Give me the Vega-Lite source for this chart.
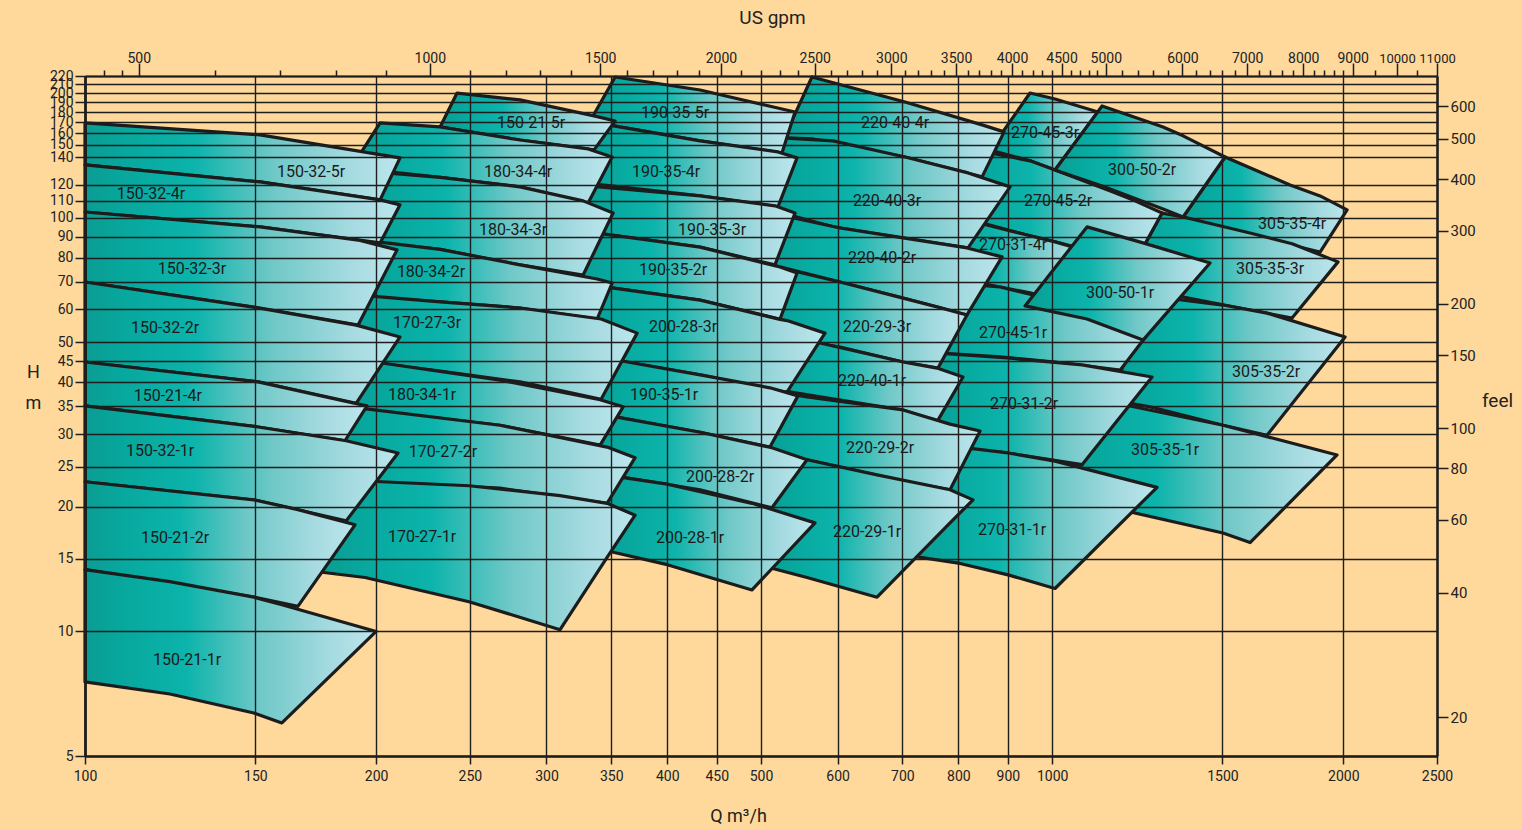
{
  "$schema": "https://vega.github.io/schema/vega-lite/v6.json",
  "width": 1352,
  "height": 680,
  "autosize": {"type": "none"},
  "padding": {"left": 85, "top": 76, "right": 85, "bottom": 74},
  "background": "#FED99B",
  "config": {
    "view": {"stroke": null},
    "font": "Roboto",
    "axis": {
      "labelFont": "Roboto", "labelColor": "#222222", "tickColor": "#1e1e1e", "domainColor": "#1e1e1e",
      "titleFont": "Roboto", "titleFontWeight": "normal", "titleColor": "#222222",
      "labelFlush": false, "labelOverlap": false, "tickWidth": 1.5, "zindex": 1
    }
  },
  "datasets": {
    "regions": [
      {"r":"150-32-5r","c":7,"q":100,"t":169.4,"b":134.1},
      {"r":"150-32-5r","c":7,"q":151.7,"t":158.5,"b":122.0},
      {"r":"150-32-5r","c":7,"q":201.9,"t":142.0,"b":110.4},
      {"r":"150-32-5r","c":7,"q":211.7,"t":139.5,"b":139.5},
      {"r":"150-32-4r","c":7,"q":100,"t":134.1,"b":103.2},
      {"r":"150-32-4r","c":7,"q":151.7,"t":122.0,"b":95.0},
      {"r":"150-32-4r","c":7,"q":201.9,"t":110.4,"b":86.9},
      {"r":"150-32-4r","c":7,"q":211.7,"t":107.4,"b":107.4},
      {"r":"150-32-3r","c":7,"q":100,"t":103.2,"b":69.9},
      {"r":"150-32-3r","c":7,"q":151.7,"t":95.0,"b":60.5},
      {"r":"150-32-3r","c":7,"q":191.6,"t":88.3,"b":55.0},
      {"r":"150-32-3r","c":7,"q":210.2,"t":83.6,"b":83.6},
      {"r":"150-32-2r","c":7,"q":100,"t":69.9,"b":44.8},
      {"r":"150-32-2r","c":7,"q":151.0,"t":60.5,"b":40.1},
      {"r":"150-32-2r","c":7,"q":190.7,"t":55.0,"b":35.6},
      {"r":"150-32-2r","c":7,"q":211.7,"t":51.5,"b":51.5},
      {"r":"150-21-4r","c":7,"q":100,"t":44.8,"b":35.1},
      {"r":"150-21-4r","c":7,"q":151.0,"t":40.1,"b":31.2},
      {"r":"150-21-4r","c":7,"q":185.7,"t":36.0,"b":28.9},
      {"r":"150-21-4r","c":7,"q":195.7,"t":35.1,"b":35.1},
      {"r":"150-32-1r","c":7,"q":100,"t":35.1,"b":23.0},
      {"r":"150-32-1r","c":7,"q":151.0,"t":31.2,"b":20.7},
      {"r":"150-32-1r","c":7,"q":186.2,"t":28.9,"b":18.5},
      {"r":"150-32-1r","c":7,"q":210.7,"t":27.0,"b":27.0},
      {"r":"150-21-2r","c":7,"q":100,"t":23.0,"b":14.1},
      {"r":"150-21-2r","c":7,"q":149.5,"t":20.8,"b":12.1},
      {"r":"150-21-2r","c":7,"q":166.0,"t":19.7,"b":11.5},
      {"r":"150-21-2r","c":7,"q":190.2,"t":18.1,"b":18.1},
      {"r":"150-21-1r","c":7,"q":100,"t":14.1,"b":7.55},
      {"r":"150-21-1r","c":7,"q":122.4,"t":13.2,"b":7.06},
      {"r":"150-21-1r","c":7,"q":149.5,"t":12.1,"b":6.35},
      {"r":"150-21-1r","c":7,"q":159.8,"t":11.6,"b":6.01},
      {"r":"150-21-1r","c":7,"q":200,"t":10.0,"b":10.0},

      {"r":"150-21-5r","c":6,"q":232.9,"t":165.7,"b":165.7},
      {"r":"150-21-5r","c":6,"q":242.5,"t":200.1,"b":163.0},
      {"r":"150-21-5r","c":6,"q":281.7,"t":192.6,"b":154.1},
      {"r":"150-21-5r","c":6,"q":336.0,"t":176.2,"b":145.8},
      {"r":"150-21-5r","c":6,"q":353.3,"t":171.3,"b":171.3},
      {"r":"180-34-4r","c":6,"q":187.9,"t":130.4,"b":130.4},
      {"r":"180-34-4r","c":6,"q":201.9,"t":169.4,"b":129.7},
      {"r":"180-34-4r","c":6,"q":232.9,"t":165.7,"b":125.2},
      {"r":"180-34-4r","c":6,"q":281.7,"t":154.1,"b":118.7},
      {"r":"180-34-4r","c":6,"q":331.3,"t":146.6,"b":108.5},
      {"r":"180-34-4r","c":6,"q":350.8,"t":140.2,"b":140.2},
      {"r":"180-34-3r","c":6,"q":191.6,"t":87.9,"b":87.9},
      {"r":"180-34-3r","c":6,"q":193.4,"t":129.7,"b":87.6},
      {"r":"180-34-3r","c":6,"q":232.9,"t":125.2,"b":83.8},
      {"r":"180-34-3r","c":6,"q":281.7,"t":118.7,"b":76.9},
      {"r":"180-34-3r","c":6,"q":327.4,"t":109.8,"b":72.7},
      {"r":"180-34-3r","c":6,"q":351.6,"t":102.6,"b":102.6},
      {"r":"180-34-2r","c":6,"q":190.2,"t":64.7,"b":64.7},
      {"r":"180-34-2r","c":6,"q":197.1,"t":87.9,"b":64.3},
      {"r":"180-34-2r","c":6,"q":232.9,"t":83.8,"b":62.6},
      {"r":"180-34-2r","c":6,"q":281.7,"t":76.9,"b":60.5},
      {"r":"180-34-2r","c":6,"q":338.5,"t":71.1,"b":56.9},
      {"r":"180-34-2r","c":6,"q":350.8,"t":69.5,"b":69.5},
      {"r":"170-27-3r","c":6,"q":185.7,"t":44.1,"b":44.1},
      {"r":"170-27-3r","c":6,"q":196.2,"t":64.7,"b":44.8},
      {"r":"170-27-3r","c":6,"q":232.9,"t":62.6,"b":42.6},
      {"r":"170-27-3r","c":6,"q":281.7,"t":60.5,"b":40.1},
      {"r":"170-27-3r","c":6,"q":341.7,"t":56.9,"b":36.4},
      {"r":"170-27-3r","c":6,"q":372.3,"t":52.6,"b":52.6},
      {"r":"180-34-1r","c":6,"q":187.9,"t":34.3,"b":34.3},
      {"r":"180-34-1r","c":6,"q":199.5,"t":44.8,"b":34.1},
      {"r":"180-34-1r","c":6,"q":268.6,"t":40.5,"b":31.5},
      {"r":"180-34-1r","c":6,"q":340.9,"t":36.3,"b":28.2},
      {"r":"180-34-1r","c":6,"q":360.1,"t":34.9,"b":34.9},
      {"r":"170-27-2r","c":6,"q":177.1,"t":23.1,"b":23.1},
      {"r":"170-27-2r","c":6,"q":187.9,"t":34.9,"b":23.1},
      {"r":"170-27-2r","c":6,"q":268.6,"t":31.5,"b":22.2},
      {"r":"170-27-2r","c":6,"q":346.6,"t":27.9,"b":20.4},
      {"r":"170-27-2r","c":6,"q":370.5,"t":26.3,"b":26.3},
      {"r":"170-27-1r","c":6,"q":175.8,"t":13.9,"b":13.9},
      {"r":"170-27-1r","c":6,"q":194.8,"t":23.1,"b":13.5},
      {"r":"170-27-1r","c":6,"q":249.5,"t":22.5,"b":11.8},
      {"r":"170-27-1r","c":6,"q":309.9,"t":21.3,"b":10.1},
      {"r":"170-27-1r","c":6,"q":346.6,"t":20.4,"b":15.1},
      {"r":"170-27-1r","c":6,"q":370.5,"t":19.1,"b":19.1},

      {"r":"190-35-5r","c":5,"q":332.0,"t":169.4,"b":169.4},
      {"r":"190-35-5r","c":5,"q":353.3,"t":218.8,"b":166.6},
      {"r":"190-35-5r","c":5,"q":432.5,"t":203.5,"b":153.3},
      {"r":"190-35-5r","c":5,"q":525.6,"t":183.1,"b":143.4},
      {"r":"190-35-5r","c":5,"q":542.2,"t":180.1,"b":180.1},
      {"r":"190-35-4r","c":5,"q":326.6,"t":120.0,"b":120.0},
      {"r":"190-35-4r","c":5,"q":342.5,"t":168.5,"b":120.0},
      {"r":"190-35-4r","c":5,"q":432.5,"t":153.3,"b":112.9},
      {"r":"190-35-4r","c":5,"q":520.6,"t":144.2,"b":106.2},
      {"r":"190-35-4r","c":5,"q":544.8,"t":139.5,"b":139.5},
      {"r":"190-35-3r","c":5,"q":323.5,"t":92.3,"b":92.3},
      {"r":"190-35-3r","c":5,"q":331.3,"t":119.3,"b":92.3},
      {"r":"190-35-3r","c":5,"q":432.5,"t":112.9,"b":84.9},
      {"r":"190-35-3r","c":5,"q":516.9,"t":106.8,"b":76.9},
      {"r":"190-35-3r","c":5,"q":542.2,"t":102.6,"b":102.6},
      {"r":"190-35-2r","c":5,"q":321.2,"t":68.8,"b":68.8},
      {"r":"190-35-2r","c":5,"q":332.9,"t":92.3,"b":68.8},
      {"r":"190-35-2r","c":5,"q":432.5,"t":84.9,"b":63.2},
      {"r":"190-35-2r","c":5,"q":523.1,"t":76.0,"b":56.8},
      {"r":"190-35-2r","c":5,"q":544.8,"t":73.5,"b":73.5},
      {"r":"200-28-3r","c":5,"q":325.0,"t":46.6,"b":46.6},
      {"r":"200-28-3r","c":5,"q":332.9,"t":68.8,"b":46.3},
      {"r":"200-28-3r","c":5,"q":432.5,"t":63.2,"b":41.7},
      {"r":"200-28-3r","c":5,"q":523.1,"t":56.8,"b":38.1},
      {"r":"200-28-3r","c":5,"q":531.9,"t":56.4,"b":37.9},
      {"r":"200-28-3r","c":5,"q":582.3,"t":52.6,"b":52.6},
      {"r":"190-35-1r","c":5,"q":332.9,"t":33.4,"b":33.4},
      {"r":"190-35-1r","c":5,"q":345.0,"t":45.8,"b":33.4},
      {"r":"190-35-1r","c":5,"q":432.5,"t":41.7,"b":30.3},
      {"r":"190-35-1r","c":5,"q":510.8,"t":38.8,"b":27.9},
      {"r":"190-35-1r","c":5,"q":546.0,"t":37.1,"b":37.1},
      {"r":"200-28-2r","c":5,"q":332.9,"t":24.3,"b":24.3},
      {"r":"200-28-2r","c":5,"q":343.3,"t":33.4,"b":24.0},
      {"r":"200-28-2r","c":5,"q":432.5,"t":30.3,"b":22.0},
      {"r":"200-28-2r","c":5,"q":513.2,"t":27.8,"b":19.9},
      {"r":"200-28-2r","c":5,"q":557.9,"t":26.0,"b":26.0},
      {"r":"200-28-1r","c":5,"q":340.9,"t":15.7,"b":15.7},
      {"r":"200-28-1r","c":5,"q":349.1,"t":23.8,"b":15.6},
      {"r":"200-28-1r","c":5,"q":400,"t":22.7,"b":14.5},
      {"r":"200-28-1r","c":5,"q":489.4,"t":20.4,"b":12.6},
      {"r":"200-28-1r","c":5,"q":568.6,"t":18.3,"b":18.3},

      {"r":"220-40-4r","c":4,"q":528.2,"t":155.9,"b":155.9},
      {"r":"220-40-4r","c":4,"q":564.5,"t":218.8,"b":155.0},
      {"r":"220-40-4r","c":4,"q":704.5,"t":190.4,"b":140.2},
      {"r":"220-40-4r","c":4,"q":846.4,"t":167.6,"b":125.5},
      {"r":"220-40-4r","c":4,"q":891.9,"t":161.2,"b":161.2},
      {"r":"220-40-3r","c":4,"q":510.8,"t":103.2,"b":103.2},
      {"r":"220-40-3r","c":4,"q":525.6,"t":155.9,"b":102.6},
      {"r":"220-40-3r","c":4,"q":593.5,"t":153.3,"b":95.0},
      {"r":"220-40-3r","c":4,"q":704.5,"t":140.2,"b":89.3},
      {"r":"220-40-3r","c":4,"q":818.5,"t":128.3,"b":84.5},
      {"r":"220-40-3r","c":4,"q":904.7,"t":118.7,"b":118.7},
      {"r":"220-40-2r","c":4,"q":499,"t":77.3,"b":77.3},
      {"r":"220-40-2r","c":4,"q":513.2,"t":102.6,"b":76.9},
      {"r":"220-40-2r","c":4,"q":603.4,"t":94.4,"b":69.9},
      {"r":"220-40-2r","c":4,"q":701.2,"t":89.3,"b":63.9},
      {"r":"220-40-2r","c":4,"q":816.5,"t":84.5,"b":58.2},
      {"r":"220-40-2r","c":4,"q":887.7,"t":80.4,"b":80.4},
      {"r":"220-29-3r","c":4,"q":504.8,"t":52.1,"b":52.1},
      {"r":"220-29-3r","c":4,"q":513.2,"t":76.5,"b":51.8},
      {"r":"220-29-3r","c":4,"q":603.4,"t":69.9,"b":48.7},
      {"r":"220-29-3r","c":4,"q":701.2,"t":63.9,"b":44.8},
      {"r":"220-29-3r","c":4,"q":762.1,"t":60.8,"b":43.3},
      {"r":"220-29-3r","c":4,"q":816.5,"t":58.2,"b":58.2},
      {"r":"220-40-1r","c":4,"q":516.9,"t":38.3,"b":38.3},
      {"r":"220-40-1r","c":4,"q":529.4,"t":50.1,"b":38.1},
      {"r":"220-40-1r","c":4,"q":575.4,"t":49.8,"b":36.9},
      {"r":"220-40-1r","c":4,"q":701.2,"t":44.8,"b":34.3},
      {"r":"220-40-1r","c":4,"q":760.2,"t":43.3,"b":32.1},
      {"r":"220-40-1r","c":4,"q":808.8,"t":41.2,"b":41.2},
      {"r":"220-29-2r","c":4,"q":504.8,"t":26.3,"b":26.3},
      {"r":"220-29-2r","c":4,"q":513.2,"t":38.1,"b":26.1},
      {"r":"220-29-2r","c":4,"q":557.9,"t":36.9,"b":26.0},
      {"r":"220-29-2r","c":4,"q":701.2,"t":34.3,"b":23.1},
      {"r":"220-29-2r","c":4,"q":784.2,"t":31.7,"b":22.0},
      {"r":"220-29-2r","c":4,"q":842.4,"t":30.5,"b":30.5},
      {"r":"220-29-1r","c":4,"q":504.8,"t":14.4,"b":14.4},
      {"r":"220-29-1r","c":4,"q":508.4,"t":25.8,"b":14.3},
      {"r":"220-29-1r","c":4,"q":557.9,"t":26.0,"b":13.5},
      {"r":"220-29-1r","c":4,"q":659.1,"t":23.9,"b":12.1},
      {"r":"220-29-1r","c":4,"q":784.2,"t":22.0,"b":18.3},
      {"r":"220-29-1r","c":4,"q":828.3,"t":20.8,"b":20.8},

      {"r":"270-45-3r","c":2,"q":862.7,"t":145.8,"b":145.8},
      {"r":"270-45-3r","c":2,"q":948.7,"t":200.1,"b":137.2},
      {"r":"270-45-3r","c":2,"q":1006.9,"t":193.6,"b":130.4},
      {"r":"270-45-3r","c":2,"q":1115.5,"t":180.1,"b":180.1},
      {"r":"270-45-2r","c":2,"q":803.0,"t":98.7,"b":98.7},
      {"r":"270-45-2r","c":2,"q":852.5,"t":144.2,"b":96.6},
      {"r":"270-45-2r","c":2,"q":948.7,"t":137.2,"b":90.4},
      {"r":"270-45-2r","c":2,"q":1006.9,"t":130.4,"b":87.4},
      {"r":"270-45-2r","c":2,"q":1156.0,"t":115.4,"b":80.4},
      {"r":"270-45-2r","c":2,"q":1218.2,"t":109.8,"b":78.2},
      {"r":"270-45-2r","c":2,"q":1299.2,"t":102.6,"b":102.6},
      {"r":"270-31-4r","c":2,"q":774.9,"t":70.7,"b":70.7},
      {"r":"270-31-4r","c":2,"q":832.2,"t":97.6,"b":69.9},
      {"r":"270-31-4r","c":2,"q":948.7,"t":90.4,"b":65.8},
      {"r":"270-31-4r","c":2,"q":1006.9,"t":87.4,"b":63.2},
      {"r":"270-31-4r","c":2,"q":1094.4,"t":82.6,"b":82.6},
      {"r":"270-45-1r","c":2,"q":738.9,"t":47.1,"b":47.1},
      {"r":"270-45-1r","c":2,"q":765.7,"t":69.9,"b":47.1},
      {"r":"270-45-1r","c":2,"q":883.4,"t":68.0,"b":46.1},
      {"r":"270-45-1r","c":2,"q":1006.9,"t":63.2,"b":44.8},
      {"r":"270-45-1r","c":2,"q":1175.6,"t":59.2,"b":42.8},
      {"r":"270-45-1r","c":2,"q":1292.9,"t":57.2,"b":57.2},
      {"r":"270-31-2r","c":2,"q":747.7,"t":27.9,"b":27.9},
      {"r":"270-31-2r","c":2,"q":756.6,"t":47.1,"b":27.9},
      {"r":"270-31-2r","c":2,"q":899.3,"t":45.8,"b":27.0},
      {"r":"270-31-2r","c":2,"q":1073.8,"t":44.1,"b":25.3},
      {"r":"270-31-2r","c":2,"q":1268.6,"t":41.2,"b":41.2},
      {"r":"270-31-1r","c":2,"q":716.4,"t":15.2,"b":15.2},
      {"r":"270-31-1r","c":2,"q":803.0,"t":27.9,"b":14.6},
      {"r":"270-31-1r","c":2,"q":900.5,"t":27.0,"b":13.7},
      {"r":"270-31-1r","c":2,"q":1006.9,"t":25.8,"b":12.7},
      {"r":"270-31-1r","c":2,"q":1283.7,"t":22.3,"b":22.3},

      {"r":"300-50-2r","c":3,"q":1006.9,"t":130.4,"b":130.4},
      {"r":"300-50-2r","c":3,"q":1126.2,"t":186.2,"b":119.3},
      {"r":"300-50-2r","c":3,"q":1302.2,"t":165.7,"b":105.0},
      {"r":"300-50-2r","c":3,"q":1365.8,"t":157.7,"b":100.4},
      {"r":"300-50-2r","c":3,"q":1509.3,"t":140.2,"b":140.2},
      {"r":"300-50-1r","c":3,"q":937.5,"t":61.2,"b":61.2},
      {"r":"300-50-1r","c":3,"q":1086.6,"t":95.0,"b":56.9},
      {"r":"300-50-1r","c":3,"q":1241.7,"t":86.9,"b":50.6},
      {"r":"300-50-1r","c":3,"q":1456.4,"t":77.7,"b":77.7},

      {"r":"305-35-4r","c":1,"q":1365.8,"t":100.4,"b":100.4},
      {"r":"305-35-4r","c":1,"q":1509.3,"t":140.2,"b":94.4},
      {"r":"305-35-4r","c":1,"q":1762.0,"t":120.0,"b":86.0},
      {"r":"305-35-4r","c":1,"q":1892.6,"t":112.9,"b":82.6},
      {"r":"305-35-4r","c":1,"q":2018.2,"t":104.4,"b":104.4},
      {"r":"305-35-3r","c":1,"q":1175.6,"t":66.9,"b":66.9},
      {"r":"305-35-3r","c":1,"q":1299.2,"t":102.6,"b":65.0},
      {"r":"305-35-3r","c":1,"q":1365.8,"t":100.4,"b":64.3},
      {"r":"305-35-3r","c":1,"q":1601.9,"t":91.8,"b":59.8},
      {"r":"305-35-3r","c":1,"q":1770.4,"t":86.5,"b":57.2},
      {"r":"305-35-3r","c":1,"q":1975.4,"t":78.2,"b":78.2},
      {"r":"305-35-2r","c":1,"q":1147.8,"t":36.3,"b":36.3},
      {"r":"305-35-2r","c":1,"q":1262.6,"t":64.7,"b":34.9},
      {"r":"305-35-2r","c":1,"q":1502,"t":61.5,"b":31.5},
      {"r":"305-35-2r","c":1,"q":1668.0,"t":58.8,"b":29.8},
      {"r":"305-35-2r","c":1,"q":2008.6,"t":51.5,"b":51.5},
      {"r":"305-35-1r","c":1,"q":1019.0,"t":20.8,"b":20.8},
      {"r":"305-35-1r","c":1,"q":1120.8,"t":36.3,"b":20.2},
      {"r":"305-35-1r","c":1,"q":1502,"t":31.5,"b":17.3},
      {"r":"305-35-1r","c":1,"q":1601.9,"t":30.3,"b":16.4},
      {"r":"305-35-1r","c":1,"q":1970.6,"t":26.7,"b":26.7}
    ],
    "labels": [
      {"txt":"150-32-5r","q":171.3,"t":129.0},
      {"txt":"150-32-4r","q":117.0,"t":114.1},
      {"txt":"150-32-3r","q":129.0,"t":75.2},
      {"txt":"150-32-2r","q":121.0,"t":54.1},
      {"txt":"150-21-4r","q":121.8,"t":37.1},
      {"txt":"150-32-1r","q":119.6,"t":27.3},
      {"txt":"150-21-2r","q":123.9,"t":16.8},
      {"txt":"150-21-1r","q":127.5,"t":8.53},
      {"txt":"150-21-5r","q":289.2,"t":169.4},
      {"txt":"180-34-4r","q":280.4,"t":129.0},
      {"txt":"180-34-3r","q":277.1,"t":93.4},
      {"txt":"180-34-2r","q":227.9,"t":73.9},
      {"txt":"170-27-3r","q":225.8,"t":55.6},
      {"txt":"180-34-1r","q":223.1,"t":37.3},
      {"txt":"170-27-2r","q":234.5,"t":27.1},
      {"txt":"170-27-1r","q":223.1,"t":16.9},
      {"txt":"190-35-5r","q":407.5,"t":179.1},
      {"txt":"190-35-4r","q":398.9,"t":129.0},
      {"txt":"190-35-3r","q":445.0,"t":93.4},
      {"txt":"190-35-2r","q":405.6,"t":74.8},
      {"txt":"200-28-3r","q":415.3,"t":54.4},
      {"txt":"190-35-1r","q":397.0,"t":37.3},
      {"txt":"200-28-2r","q":453.5,"t":23.6},
      {"txt":"200-28-1r","q":422.3,"t":16.8},
      {"txt":"220-40-4r","q":688.0,"t":169.4},
      {"txt":"220-40-3r","q":674.9,"t":109.8},
      {"txt":"220-40-2r","q":667.0,"t":79.9},
      {"txt":"220-29-3r","q":659.1,"t":54.4},
      {"txt":"220-40-1r","q":651.3,"t":40.3},
      {"txt":"220-29-2r","q":663.8,"t":27.8},
      {"txt":"220-29-1r","q":643.6,"t":17.4},
      {"txt":"270-45-3r","q":983.2,"t":160.3},
      {"txt":"270-45-2r","q":1014.1,"t":109.8},
      {"txt":"270-31-4r","q":911.2,"t":86.0},
      {"txt":"270-45-1r","q":911.2,"t":52.6},
      {"txt":"270-31-2r","q":935.3,"t":35.4},
      {"txt":"270-31-1r","q":909.0,"t":17.6},
      {"txt":"300-50-2r","q":1238.7,"t":130.4},
      {"txt":"305-35-4r","q":1770.4,"t":96.6},
      {"txt":"305-35-3r","q":1680.0,"t":75.2},
      {"txt":"300-50-1r","q":1175.6,"t":65.8},
      {"txt":"305-35-2r","q":1664.2,"t":42.4},
      {"txt":"305-35-1r","q":1308.5,"t":27.4}
    ],
    "ext": [
      {"gpm": 440, "ft": 16.13},
      {"gpm": 11000, "ft": 709.9}
    ]
  },
  "layer": [
    {
      "encoding": {
        "x": {
          "field": "q", "type": "quantitative",
          "scale": {"type": "log", "domain": [100, 2500], "nice": false, "zero": false},
          "axis": {
            "orient": "bottom", "zindex": 2,
            "values": [100,150,200,250,300,350,400,450,500,600,700,800,900,1000,1500,2000,2500],
            "format": "d",
            "grid": true, "gridColor": "#1e1e1e", "gridWidth": 1.4, "gridOpacity": 1,
            "domainWidth": 2.5, "tickSize": 8, "labelFontSize": 14, "labelPadding": 5,
            "title": "Q  m³/h", "titleFontSize": 18, "titleX": 653, "titleY": 60,
            "titleBaseline": "middle", "titleAlign": "center"
          }
        },
        "y": {
          "field": "t", "type": "quantitative", "stack": null,
          "scale": {"type": "log", "domain": [5, 220], "nice": false, "zero": false},
          "axis": {
            "orient": "left", "zindex": 2,
            "values": [5,10,15,20,25,30,35,40,45,50,60,70,80,90,100,110,120,140,150,160,170,180,190,200,210,220],
            "format": "d",
            "grid": true, "gridColor": "#1e1e1e", "gridWidth": 1.4, "gridOpacity": 1,
            "domainWidth": 2.8, "tickSize": 10, "labelFontSize": 14, "labelPadding": 2,
            "title": ["H", "m"], "titleAngle": 0, "titleFontSize": 18, "titleLineHeight": 31,
            "titleX": -52, "titleY": 296, "titleAlign": "center", "titleBaseline": "middle"
          }
        }
      },
      "layer": [
        {
          "data": {"name": "regions"},
          "transform": [{"filter": "datum.c == 1"}],
          "mark": {"type": "area", "interpolate": "linear", "stroke": "#1c1c1c", "strokeWidth": 3.2, "strokeJoin": "round",
            "fill": {"gradient": "linear", "x1": 0, "y1": 0, "x2": 1, "y2": 0, "stops": [
              {"offset": 0, "color": "#0b9c92"}, {"offset": 0.12, "color": "#07a79d"}, {"offset": 0.35, "color": "#0cb4ab"},
              {"offset": 0.6, "color": "#6fc8c7"}, {"offset": 0.85, "color": "#a6dbe1"}, {"offset": 1, "color": "#bde6ed"}]}},
          "encoding": {"y2": {"field": "b"}, "detail": {"field": "r", "type": "nominal"}}
        },
        {
          "data": {"name": "regions"},
          "transform": [{"filter": "datum.c == 2"}],
          "mark": {"type": "area", "interpolate": "linear", "stroke": "#1c1c1c", "strokeWidth": 3.2, "strokeJoin": "round",
            "fill": {"gradient": "linear", "x1": 0, "y1": 0, "x2": 1, "y2": 0, "stops": [
              {"offset": 0, "color": "#0b9c92"}, {"offset": 0.12, "color": "#07a79d"}, {"offset": 0.35, "color": "#0cb4ab"},
              {"offset": 0.6, "color": "#6fc8c7"}, {"offset": 0.85, "color": "#a6dbe1"}, {"offset": 1, "color": "#bde6ed"}]}},
          "encoding": {"y2": {"field": "b"}, "detail": {"field": "r", "type": "nominal"}}
        },
        {
          "data": {"name": "regions"},
          "transform": [{"filter": "datum.c == 3"}],
          "mark": {"type": "area", "interpolate": "linear", "stroke": "#1c1c1c", "strokeWidth": 3.2, "strokeJoin": "round",
            "fill": {"gradient": "linear", "x1": 0, "y1": 0, "x2": 1, "y2": 0, "stops": [
              {"offset": 0, "color": "#0b9c92"}, {"offset": 0.12, "color": "#07a79d"}, {"offset": 0.35, "color": "#0cb4ab"},
              {"offset": 0.6, "color": "#6fc8c7"}, {"offset": 0.85, "color": "#a6dbe1"}, {"offset": 1, "color": "#bde6ed"}]}},
          "encoding": {"y2": {"field": "b"}, "detail": {"field": "r", "type": "nominal"}}
        },
        {
          "data": {"name": "regions"},
          "transform": [{"filter": "datum.c == 4"}],
          "mark": {"type": "area", "interpolate": "linear", "stroke": "#1c1c1c", "strokeWidth": 3.2, "strokeJoin": "round",
            "fill": {"gradient": "linear", "x1": 0, "y1": 0, "x2": 1, "y2": 0, "stops": [
              {"offset": 0, "color": "#0b9c92"}, {"offset": 0.12, "color": "#07a79d"}, {"offset": 0.35, "color": "#0cb4ab"},
              {"offset": 0.6, "color": "#6fc8c7"}, {"offset": 0.85, "color": "#a6dbe1"}, {"offset": 1, "color": "#bde6ed"}]}},
          "encoding": {"y2": {"field": "b"}, "detail": {"field": "r", "type": "nominal"}}
        },
        {
          "data": {"name": "regions"},
          "transform": [{"filter": "datum.c == 5"}],
          "mark": {"type": "area", "interpolate": "linear", "stroke": "#1c1c1c", "strokeWidth": 3.2, "strokeJoin": "round",
            "fill": {"gradient": "linear", "x1": 0, "y1": 0, "x2": 1, "y2": 0, "stops": [
              {"offset": 0, "color": "#0b9c92"}, {"offset": 0.12, "color": "#07a79d"}, {"offset": 0.35, "color": "#0cb4ab"},
              {"offset": 0.6, "color": "#6fc8c7"}, {"offset": 0.85, "color": "#a6dbe1"}, {"offset": 1, "color": "#bde6ed"}]}},
          "encoding": {"y2": {"field": "b"}, "detail": {"field": "r", "type": "nominal"}}
        },
        {
          "data": {"name": "regions"},
          "transform": [{"filter": "datum.c == 6"}],
          "mark": {"type": "area", "interpolate": "linear", "stroke": "#1c1c1c", "strokeWidth": 3.2, "strokeJoin": "round",
            "fill": {"gradient": "linear", "x1": 0, "y1": 0, "x2": 1, "y2": 0, "stops": [
              {"offset": 0, "color": "#0b9c92"}, {"offset": 0.12, "color": "#07a79d"}, {"offset": 0.35, "color": "#0cb4ab"},
              {"offset": 0.6, "color": "#6fc8c7"}, {"offset": 0.85, "color": "#a6dbe1"}, {"offset": 1, "color": "#bde6ed"}]}},
          "encoding": {"y2": {"field": "b"}, "detail": {"field": "r", "type": "nominal"}}
        },
        {
          "data": {"name": "regions"},
          "transform": [{"filter": "datum.c == 7"}],
          "mark": {"type": "area", "interpolate": "linear", "stroke": "#1c1c1c", "strokeWidth": 3.2, "strokeJoin": "round",
            "fill": {"gradient": "linear", "x1": 0, "y1": 0, "x2": 1, "y2": 0, "stops": [
              {"offset": 0, "color": "#0b9c92"}, {"offset": 0.12, "color": "#07a79d"}, {"offset": 0.35, "color": "#0cb4ab"},
              {"offset": 0.6, "color": "#6fc8c7"}, {"offset": 0.85, "color": "#a6dbe1"}, {"offset": 1, "color": "#bde6ed"}]}},
          "encoding": {"y2": {"field": "b"}, "detail": {"field": "r", "type": "nominal"}}
        },
        {
          "data": {"name": "labels"},
          "mark": {"type": "text", "font": "Roboto", "fontSize": 16, "fill": "#1a1a1a", "align": "center", "baseline": "middle"},
          "encoding": {"text": {"field": "txt", "type": "nominal"}}
        }
      ]
    },
    {
      "data": {"name": "ext"},
      "mark": {"type": "point", "opacity": 0},
      "encoding": {
        "x": {
          "field": "gpm", "type": "quantitative",
          "scale": {"type": "log", "domain": [440, 11000], "nice": false, "zero": false},
          "axis": {
            "orient": "top", "zindex": 2,
            "values": [460,480,500,600,700,800,900,1000,1100,1200,1300,1400,1500,1600,1700,1800,1900,2000,2100,2200,2300,2400,2500,2600,2700,2800,2900,3000,3100,3200,3300,3400,3500,3600,3700,3800,3900,4000,4100,4200,4300,4400,4500,4600,4700,4800,4900,5000,5200,5400,5600,5800,6000,6200,6400,6600,6800,7000,7200,7400,7600,7800,8000,8200,8400,8600,8800,9000,9500,10000,10500,11000],
            "format": "d",
            "labelExpr": "(datum.value % 500 === 0 && (datum.value <= 5000 || datum.value % 1000 === 0)) ? datum.label : ''",
            "tickSize": {"condition": {"test": "datum.value % 500 === 0 && (datum.value <= 5000 || datum.value % 1000 === 0)", "value": 13}, "value": 6},
            "labelFontSize": {"condition": {"test": "datum.value >= 10000", "value": 13}, "value": 14},
            "grid": false, "domainWidth": 2.2, "labelPadding": -2,
            "title": "US gpm", "titleFontSize": 19, "titleX": 687, "titleY": -59,
            "titleBaseline": "middle", "titleAlign": "center", "titleAngle": 0
          }
        },
        "y": {
          "field": "ft", "type": "quantitative",
          "scale": {"type": "log", "domain": [16.13, 709.9], "nice": false, "zero": false},
          "axis": {
            "orient": "right", "zindex": 2,
            "values": [20,40,60,80,100,150,200,300,400,500,600],
            "format": "d",
            "grid": false, "domainWidth": 2.5, "tickSize": 11, "labelFontSize": 15, "labelPadding": 2,
            "title": "feel", "titleFontSize": 19, "titleAngle": 0, "titleX": 60, "titleY": 324,
            "titleAlign": "center", "titleBaseline": "middle"
          }
        }
      }
    }
  ],
  "resolve": {"scale": {"x": "independent", "y": "independent"}}
}
